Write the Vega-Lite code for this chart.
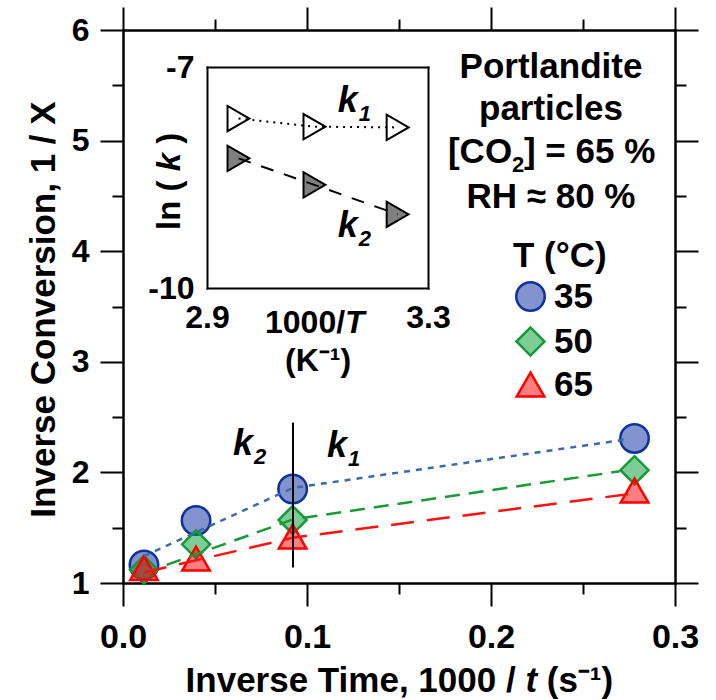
{
  "$schema": "https://vega.github.io/schema/vega-lite/v6.json",
  "width": 552,
  "height": 553,
  "autosize": "none",
  "padding": {"left": 123, "top": 30, "right": 41, "bottom": 117},
  "background": "white",
  "config": {
    "view": {"stroke": null},
    "font": "Liberation Sans",
    "axis": {
      "domainColor": "black", "domainWidth": 2, "domainCap": "square",
      "tickColor": "black", "tickWidth": 2, "grid": false,
      "labelFont": "Liberation Sans", "labelFontWeight": "bold", "labelColor": "black",
      "labelFlush": false, "labelOverlap": false,
      "titleFont": "Liberation Sans", "titleFontWeight": "bold", "titleColor": "black"
    },
    "legend": {
      "labelFont": "Liberation Sans", "labelFontWeight": "bold", "labelFontSize": 35, "labelColor": "black",
      "titleFont": "Liberation Sans", "titleFontWeight": "bold", "titleFontSize": 35, "titleColor": "black",
      "symbolStrokeWidth": 2.5, "padding": 0
    },
    "text": {"font": "Liberation Sans", "fontWeight": "bold", "color": "black"}
  },
  "datasets": {
    "conversion": [
      {"T": "35", "inv_t": 0.0114, "inv_X": 1.163},
      {"T": "35", "inv_t": 0.0397, "inv_X": 1.565},
      {"T": "35", "inv_t": 0.0922, "inv_X": 1.85},
      {"T": "35", "inv_t": 0.278, "inv_X": 2.307},
      {"T": "50", "inv_t": 0.0114, "inv_X": 1.12},
      {"T": "50", "inv_t": 0.0397, "inv_X": 1.35},
      {"T": "50", "inv_t": 0.0922, "inv_X": 1.57},
      {"T": "50", "inv_t": 0.278, "inv_X": 2.02},
      {"T": "65", "inv_t": 0.0114, "inv_X": 1.135},
      {"T": "65", "inv_t": 0.0397, "inv_X": 1.22},
      {"T": "65", "inv_t": 0.0922, "inv_X": 1.42},
      {"T": "65", "inv_t": 0.278, "inv_X": 1.836}
    ],
    "fits": [
      {"temp": "35", "inv_t": 0.0114, "inv_X": 1.244},
      {"temp": "35", "inv_t": 0.0924, "inv_X": 1.86},
      {"temp": "35", "inv_t": 0.2745, "inv_X": 2.30},
      {"temp": "50", "inv_t": 0.0114, "inv_X": 1.09},
      {"temp": "50", "inv_t": 0.0924, "inv_X": 1.575},
      {"temp": "50", "inv_t": 0.270, "inv_X": 2.01},
      {"temp": "65", "inv_t": 0.0114, "inv_X": 1.095},
      {"temp": "65", "inv_t": 0.0924, "inv_X": 1.41},
      {"temp": "65", "inv_t": 0.2777, "inv_X": 1.81}
    ],
    "divider": [{"inv_t": 0.0924, "lo": 1.14, "hi": 2.45}],
    "regimeLabels": [
      {"sub": "2", "inv_t": 0.0707, "inv_X": 2.157},
      {"sub": "1", "inv_t": 0.1217, "inv_X": 2.14}
    ],
    "conditionsCentered": [
      {"txt": "Portlandite", "inv_t": 0.2326, "inv_X": 5.566},
      {"txt": "particles", "inv_t": 0.2326, "inv_X": 5.186},
      {"txt": "RH ≈ 80 %", "inv_t": 0.2326, "inv_X": 4.391}
    ],
    "conditionsCO2": [
      {"txt": "[CO", "inv_t": 0.1766, "inv_X": 4.797},
      {"txt": "] = 65 %", "inv_t": 0.2179, "inv_X": 4.797}
    ],
    "conditionsCO2Sub": [
      {"txt": "2", "inv_t": 0.2114, "inv_X": 4.72}
    ],
    "xTitleUpright": [
      {"txt": "Inverse Time, 1000 /", "inv_t": 0.034, "inv_X": 0.0145},
      {"txt": "(s⁻¹)", "inv_t": 0.2303, "inv_X": 0.0145}
    ],
    "xTitleItalic": [
      {"txt": "t", "inv_t": 0.21875, "inv_X": 0.0145}
    ],
    "rates": [
      {"k": "k1", "invT": 2.957, "lnk": -7.70},
      {"k": "k1", "invT": 3.0945, "lnk": -7.81},
      {"k": "k1", "invT": 3.245, "lnk": -7.82},
      {"k": "k2", "invT": 2.957, "lnk": -8.24},
      {"k": "k2", "invT": 3.0945, "lnk": -8.60},
      {"k": "k2", "invT": 3.245, "lnk": -9.00}
    ],
    "rateLabels": [
      {"sub": "1", "invT": 3.173, "lnk": -7.61},
      {"sub": "2", "invT": 3.173, "lnk": -9.31}
    ],
    "insetXTitleUpright": [{"txt": "1000/", "invT": 3.005, "lnk": -10.611}],
    "insetXTitleItalic": [{"txt": "T", "invT": 3.1498, "lnk": -10.611}],
    "insetYTitleUpright": [
      {"txt": "ln (", "invT": 2.8511, "lnk": -9.2126},
      {"txt": ")", "invT": 2.8511, "lnk": -8.0425}
    ],
    "insetYTitleItalic": [{"txt": "k", "invT": 2.8511, "lnk": -8.4158}]
  },
  "layer": [
    {
      "data": {"name": "conversion"},
      "mark": {"type": "point", "filled": true, "strokeWidth": 2.5, "opacity": 1},
      "encoding": {
        "x": {"field": "inv_t", "type": "quantitative",
              "scale": {"domain": [0, 0.3], "nice": false, "zero": false},
              "axis": {"orient": "bottom", "values": [0.05, 0.15, 0.25], "tickSize": 11, "labels": false, "title": null}},
        "y": {"field": "inv_X", "type": "quantitative",
              "scale": {"domain": [1, 6], "nice": false, "zero": false},
              "axis": {"orient": "left", "values": [1.5, 2.5, 3.5, 4.5, 5.5], "tickSize": 11, "labels": false, "title": null}},
        "shape": {"field": "T", "type": "nominal",
                  "scale": {"domain": ["35", "50", "65"], "range": ["circle", "diamond", "triangle-up"]},
                  "legend": {"title": "T (°C)", "orient": "none", "legendX": 390, "legendY": 209, "rowPadding": 6, "titlePadding": 5, "labelOffset": 6}},
        "fill": {"field": "T", "type": "nominal",
                 "scale": {"domain": ["35", "50", "65"], "range": ["rgba(8,40,160,0.5)", "rgba(0,155,45,0.5)", "rgba(255,0,0,0.5)"]}},
        "stroke": {"field": "T", "type": "nominal",
                   "scale": {"domain": ["35", "50", "65"], "range": ["#0b3399", "#149a3a", "#ff0000"]}},
        "size": {"field": "T", "type": "nominal",
                 "scale": {"domain": ["35", "50", "65"], "range": [810, 760, 680]}}
      }
    },
    {
      "data": {"name": "fits"},
      "mark": {"type": "line", "strokeWidth": 2.5},
      "encoding": {
        "x": {"field": "inv_t", "type": "quantitative",
              "scale": {"domain": [0, 0.3], "nice": false, "zero": false},
              "axis": {"orient": "bottom", "values": [0, 0.1, 0.2, 0.3], "format": ".1f", "tickSize": 23,
                       "labelPadding": 14, "labelFontSize": 34, "title": null}},
        "y": {"field": "inv_X", "type": "quantitative",
              "scale": {"domain": [1, 6], "nice": false, "zero": false},
              "axis": {"orient": "left", "values": [1, 2, 3, 4, 5, 6], "format": "d", "tickSize": 23,
                       "labelPadding": 11, "labelFontSize": 32,
                       "title": "Inverse Conversion, 1 / X", "titleFontSize": 35,
                       "titleAngle": 270, "titleX": -80, "titleY": 279,
                       "titleAlign": "center", "titleBaseline": "middle"}},
        "detail": {"field": "temp"},
        "stroke": {"condition": [
                     {"test": "datum.temp === '35'", "value": "#3c6aa8"},
                     {"test": "datum.temp === '50'", "value": "#1a9a35"}],
                   "value": "#ff1010"},
        "strokeDash": {"condition": [
                         {"test": "datum.temp === '35'", "value": [6, 6]},
                         {"test": "datum.temp === '50'", "value": [15, 9]}],
                       "value": [23, 13]}
      }
    },
    {
      "data": {"name": "divider"},
      "mark": {"type": "rule", "color": "black", "strokeWidth": 2},
      "encoding": {
        "x": {"field": "inv_t", "type": "quantitative",
              "scale": {"domain": [0, 0.3], "nice": false, "zero": false},
              "axis": {"orient": "top", "values": [0, 0.1, 0.2, 0.3], "tickSize": 23, "labels": false, "title": null}},
        "y": {"field": "lo", "type": "quantitative",
              "scale": {"domain": [1, 6], "nice": false, "zero": false},
              "axis": {"orient": "right", "values": [1, 2, 3, 4, 5, 6], "tickSize": 23, "labels": false, "title": null}},
        "y2": {"field": "hi"}
      }
    },
    {
      "data": {"name": "regimeLabels"},
      "mark": {"type": "text", "text": "k", "align": "right", "baseline": "alphabetic", "fontSize": 36, "fontStyle": "italic"},
      "encoding": {
        "x": {"field": "inv_t", "type": "quantitative",
              "scale": {"domain": [0, 0.3], "nice": false, "zero": false},
              "axis": {"orient": "top", "values": [0.05, 0.15, 0.25], "tickSize": 11, "labels": false, "title": null}},
        "y": {"field": "inv_X", "type": "quantitative",
              "scale": {"domain": [1, 6], "nice": false, "zero": false},
              "axis": {"orient": "right", "values": [1.5, 2.5, 3.5, 4.5, 5.5], "tickSize": 11, "labels": false, "title": null}}
      }
    },
    {
      "data": {"name": "regimeLabels"},
      "mark": {"type": "text", "align": "left", "baseline": "alphabetic", "fontSize": 22, "fontStyle": "italic", "dx": 1, "dy": 9},
      "encoding": {
        "x": {"field": "inv_t", "type": "quantitative", "scale": {"domain": [0, 0.3], "nice": false, "zero": false}, "axis": null},
        "y": {"field": "inv_X", "type": "quantitative", "scale": {"domain": [1, 6], "nice": false, "zero": false}, "axis": null},
        "text": {"field": "sub"}
      }
    },
    {
      "data": {"name": "conditionsCentered"},
      "mark": {"type": "text", "align": "center", "baseline": "alphabetic", "fontSize": 35},
      "encoding": {
        "x": {"field": "inv_t", "type": "quantitative", "scale": {"domain": [0, 0.3], "nice": false, "zero": false}, "axis": null},
        "y": {"field": "inv_X", "type": "quantitative", "scale": {"domain": [1, 6], "nice": false, "zero": false}, "axis": null},
        "text": {"field": "txt"}
      }
    },
    {
      "data": {"name": "conditionsCO2"},
      "mark": {"type": "text", "align": "left", "baseline": "alphabetic", "fontSize": 35},
      "encoding": {
        "x": {"field": "inv_t", "type": "quantitative", "scale": {"domain": [0, 0.3], "nice": false, "zero": false}, "axis": null},
        "y": {"field": "inv_X", "type": "quantitative", "scale": {"domain": [1, 6], "nice": false, "zero": false}, "axis": null},
        "text": {"field": "txt"}
      }
    },
    {
      "data": {"name": "conditionsCO2Sub"},
      "mark": {"type": "text", "align": "left", "baseline": "alphabetic", "fontSize": 22},
      "encoding": {
        "x": {"field": "inv_t", "type": "quantitative", "scale": {"domain": [0, 0.3], "nice": false, "zero": false}, "axis": null},
        "y": {"field": "inv_X", "type": "quantitative", "scale": {"domain": [1, 6], "nice": false, "zero": false}, "axis": null},
        "text": {"field": "txt"}
      }
    },
    {
      "data": {"name": "xTitleUpright"},
      "mark": {"type": "text", "align": "left", "baseline": "alphabetic", "fontSize": 35},
      "encoding": {
        "x": {"field": "inv_t", "type": "quantitative", "scale": {"domain": [0, 0.3], "nice": false, "zero": false}, "axis": null},
        "y": {"field": "inv_X", "type": "quantitative", "scale": {"domain": [1, 6], "nice": false, "zero": false}, "axis": null},
        "text": {"field": "txt"}
      }
    },
    {
      "data": {"name": "xTitleItalic"},
      "mark": {"type": "text", "align": "left", "baseline": "alphabetic", "fontSize": 35, "fontStyle": "italic"},
      "encoding": {
        "x": {"field": "inv_t", "type": "quantitative", "scale": {"domain": [0, 0.3], "nice": false, "zero": false}, "axis": null},
        "y": {"field": "inv_X", "type": "quantitative", "scale": {"domain": [1, 6], "nice": false, "zero": false}, "axis": null},
        "text": {"field": "txt"}
      }
    },
    {
      "data": {"name": "rates"},
      "mark": {"type": "point", "shape": "triangle-right", "size": 640, "filled": true, "stroke": "black", "strokeWidth": 2, "opacity": 1},
      "encoding": {
        "x": {"field": "invT", "type": "quantitative",
              "scale": {"domain": [2.9, 3.3], "range": [84, 305], "nice": false, "zero": false},
              "axis": {"orient": "bottom", "offset": -295, "values": [2.9, 3.3], "format": ".1f", "ticks": false,
                       "labelPadding": 14, "labelFontSize": 32,
                       "title": "(K⁻¹)", "titleFontSize": 32,
                       "titleY": 82, "titleBaseline": "alphabetic"}},
        "y": {"field": "lnk", "type": "quantitative",
              "scale": {"domain": [-10, -7], "range": [258, 37], "nice": false, "zero": false},
              "axis": {"orient": "left", "offset": -84, "values": [-10, -7], "ticks": false,
                       "labelExpr": "'' + datum.value", "labelPadding": 13, "labelFontSize": 32,
                       "title": null}},
        "fill": {"condition": {"test": "datum.k === 'k1'", "value": "white"}, "value": "#808080"}
      }
    },
    {
      "data": {"name": "rates"},
      "mark": {"type": "line", "color": "black", "strokeWidth": 2},
      "encoding": {
        "x": {"field": "invT", "type": "quantitative",
              "scale": {"domain": [2.9, 3.3], "range": [84, 305], "nice": false, "zero": false},
              "axis": {"orient": "top", "offset": -37, "ticks": false, "labels": false, "title": null}},
        "y": {"field": "lnk", "type": "quantitative",
              "scale": {"domain": [-10, -7], "range": [258, 37], "nice": false, "zero": false},
              "axis": {"orient": "right", "offset": -247, "ticks": false, "labels": false, "title": null}},
        "detail": {"field": "k"},
        "strokeDash": {"condition": {"test": "datum.k === 'k1'", "value": [2, 5]}, "value": [13, 11]}
      }
    },
    {
      "data": {"name": "rateLabels"},
      "mark": {"type": "text", "text": "k", "align": "right", "baseline": "alphabetic", "fontSize": 36, "fontStyle": "italic"},
      "encoding": {
        "x": {"field": "invT", "type": "quantitative", "scale": {"domain": [2.9, 3.3], "range": [84, 305], "nice": false, "zero": false}, "axis": null},
        "y": {"field": "lnk", "type": "quantitative", "scale": {"domain": [-10, -7], "range": [258, 37], "nice": false, "zero": false}, "axis": null}
      }
    },
    {
      "data": {"name": "rateLabels"},
      "mark": {"type": "text", "align": "left", "baseline": "alphabetic", "fontSize": 22, "fontStyle": "italic", "dx": 1, "dy": 9},
      "encoding": {
        "x": {"field": "invT", "type": "quantitative", "scale": {"domain": [2.9, 3.3], "range": [84, 305], "nice": false, "zero": false}, "axis": null},
        "y": {"field": "lnk", "type": "quantitative", "scale": {"domain": [-10, -7], "range": [258, 37], "nice": false, "zero": false}, "axis": null},
        "text": {"field": "sub"}
      }
    },
    {
      "data": {"name": "insetXTitleUpright"},
      "mark": {"type": "text", "align": "left", "baseline": "alphabetic", "fontSize": 32},
      "encoding": {
        "x": {"field": "invT", "type": "quantitative", "scale": {"domain": [2.9, 3.3], "range": [84, 305], "nice": false, "zero": false}, "axis": null},
        "y": {"field": "lnk", "type": "quantitative", "scale": {"domain": [-10, -7], "range": [258, 37], "nice": false, "zero": false}, "axis": null},
        "text": {"field": "txt"}
      }
    },
    {
      "data": {"name": "insetXTitleItalic"},
      "mark": {"type": "text", "align": "left", "baseline": "alphabetic", "fontSize": 32, "fontStyle": "italic"},
      "encoding": {
        "x": {"field": "invT", "type": "quantitative", "scale": {"domain": [2.9, 3.3], "range": [84, 305], "nice": false, "zero": false}, "axis": null},
        "y": {"field": "lnk", "type": "quantitative", "scale": {"domain": [-10, -7], "range": [258, 37], "nice": false, "zero": false}, "axis": null},
        "text": {"field": "txt"}
      }
    },
    {
      "data": {"name": "insetYTitleUpright"},
      "mark": {"type": "text", "align": "left", "baseline": "alphabetic", "fontSize": 33, "angle": 270},
      "encoding": {
        "x": {"field": "invT", "type": "quantitative", "scale": {"domain": [2.9, 3.3], "range": [84, 305], "nice": false, "zero": false}, "axis": null},
        "y": {"field": "lnk", "type": "quantitative", "scale": {"domain": [-10, -7], "range": [258, 37], "nice": false, "zero": false}, "axis": null},
        "text": {"field": "txt"}
      }
    },
    {
      "data": {"name": "insetYTitleItalic"},
      "mark": {"type": "text", "align": "left", "baseline": "alphabetic", "fontSize": 33, "angle": 270, "fontStyle": "italic"},
      "encoding": {
        "x": {"field": "invT", "type": "quantitative", "scale": {"domain": [2.9, 3.3], "range": [84, 305], "nice": false, "zero": false}, "axis": null},
        "y": {"field": "lnk", "type": "quantitative", "scale": {"domain": [-10, -7], "range": [258, 37], "nice": false, "zero": false}, "axis": null},
        "text": {"field": "txt"}
      }
    }
  ],
  "resolve": {
    "scale": {"x": "independent", "y": "independent"},
    "axis": {"x": "independent", "y": "independent"}
  }
}
